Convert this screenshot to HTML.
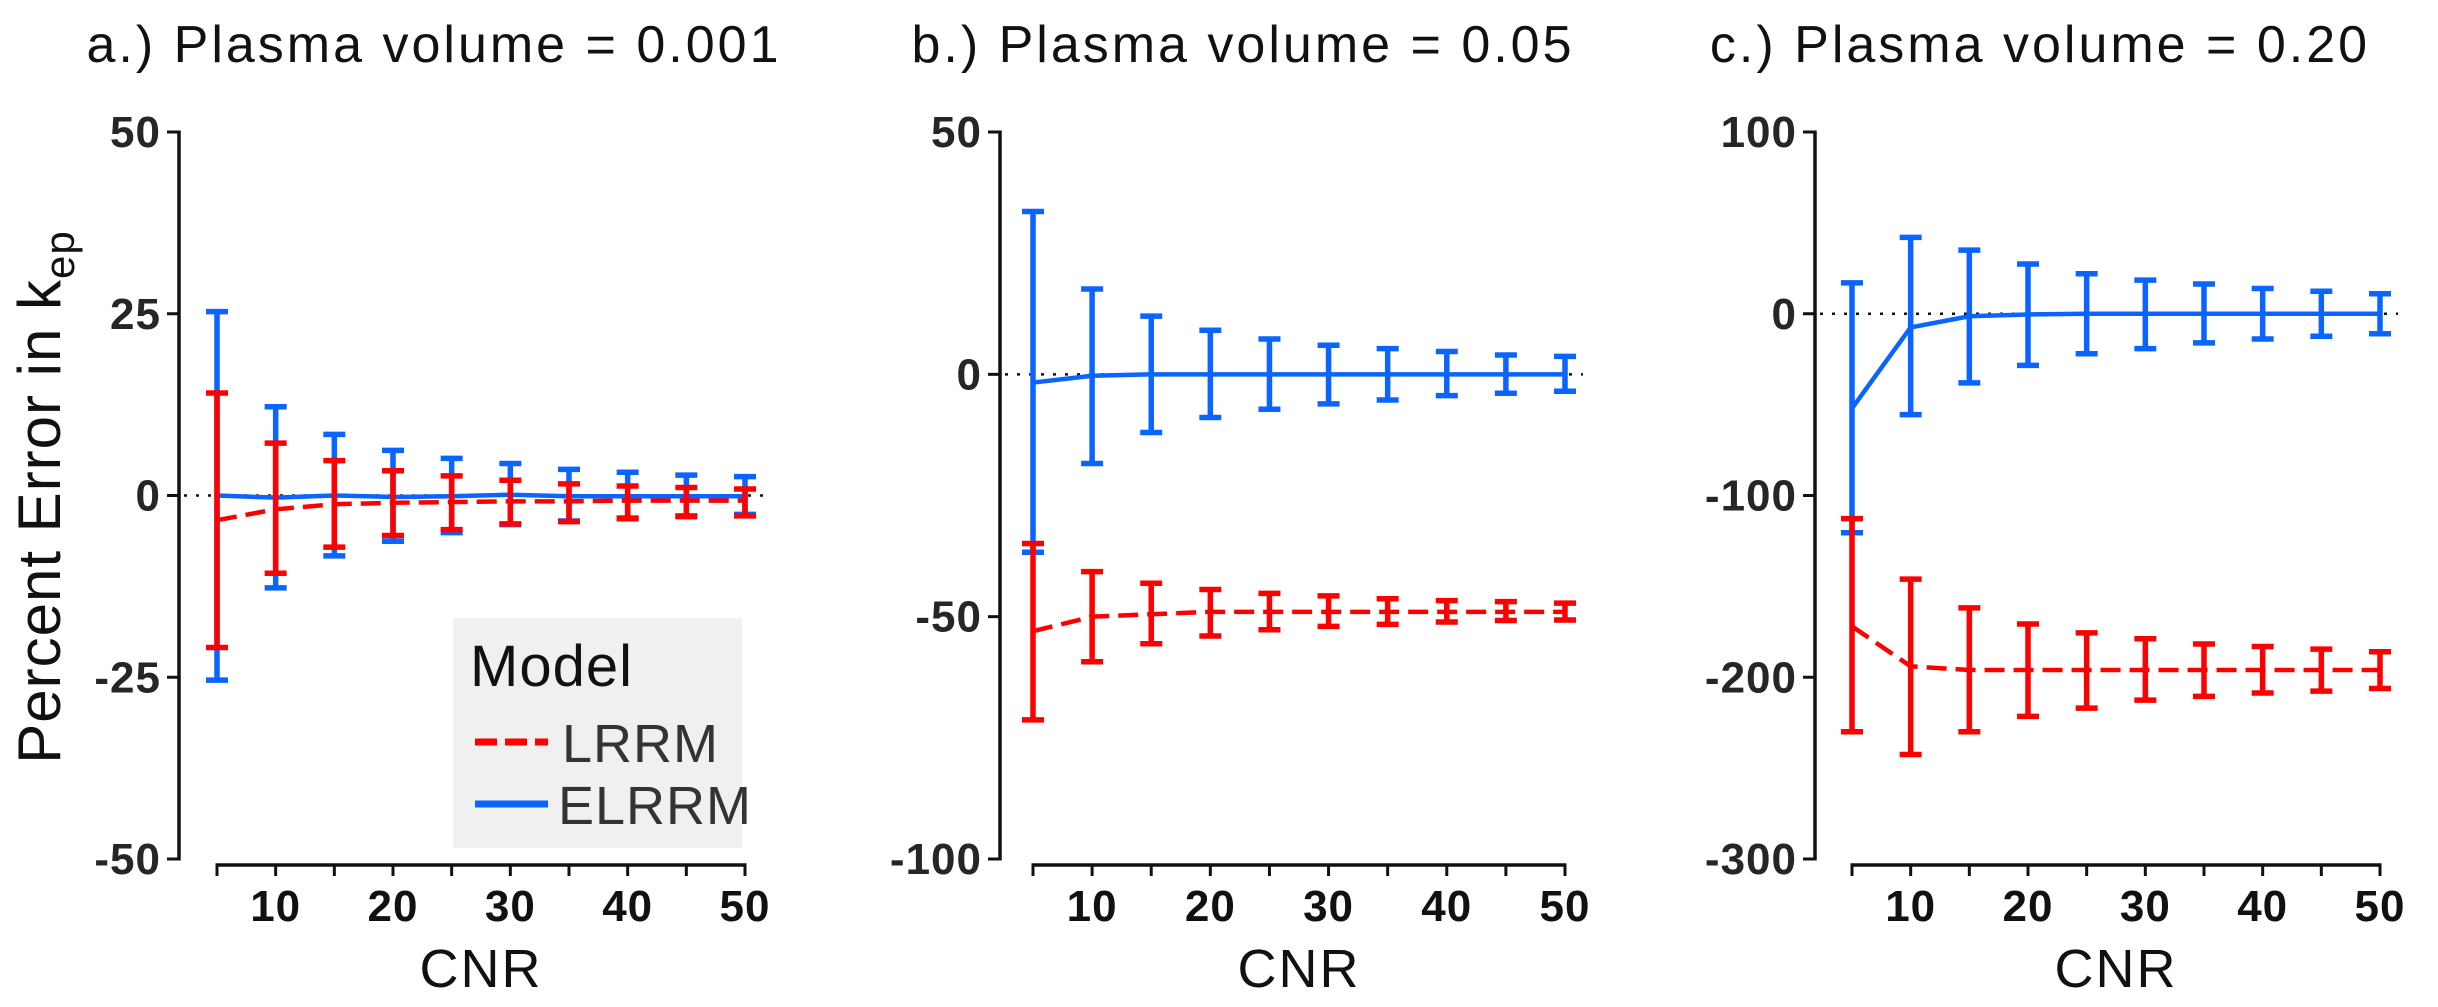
<!DOCTYPE html>
<html><head><meta charset="utf-8"><style>
html,body{margin:0;padding:0;background:#fff;}
svg{display:block;}
text{font-family:"Liberation Sans","DejaVu Sans",sans-serif;}
</style></head><body>
<svg id="fig" width="2438" height="1007" viewBox="0 0 2438 1007" xmlns="http://www.w3.org/2000/svg">
<text transform="translate(60,497) rotate(-90)" text-anchor="middle" font-size="60" fill="#111" letter-spacing="1">Percent Error in k<tspan font-size="42" dy="14">ep</tspan></text>
</svg>
<script>
const cnr = [5,10,15,20,25,30,35,40,45,50];
const xTicks = [10,20,30,40,50];
// Panel a
const aTicks = [50,25,0,-25,-50];
const aBlueMean = [0,-0.3,0,-0.2,-0.1,0.1,-0.1,-0.1,-0.1,-0.1];
const aBlueHi = [25.3,12.2,8.4,6.2,5.1,4.4,3.6,3.2,2.8,2.6];
const aBlueLo = [-25.4,-12.7,-8.3,-6.3,-5.1,-4.0,-3.5,-3.1,-2.8,-2.6];
const aRedMean = [-3.4,-1.9,-1.2,-1.0,-0.9,-0.8,-0.8,-0.7,-0.7,-0.7];
const aRedHi = [14.1,7.2,4.8,3.4,2.7,2.1,1.6,1.3,1.1,0.9];
const aRedLo = [-20.9,-10.7,-7.1,-5.5,-4.7,-3.9,-3.6,-3.2,-2.9,-2.8];
// Panel b
const bTicks = [50,0,-50,-100];
const bBlueMean = [-1.7,-0.3,0,0,0,0,0,0,0,0];
const bBlueHi = [33.6,17.6,12,9.1,7.3,6,5.3,4.7,4,3.7];
const bBlueLo = [-36.7,-18.4,-12,-8.9,-7.2,-6.1,-5.3,-4.4,-3.9,-3.5];
const bRedMean = [-53,-50,-49.5,-49,-49,-49,-49,-49,-49,-49];
const bRedHi = [-34.9,-40.7,-43.1,-44.4,-45.2,-45.7,-46.3,-46.7,-46.9,-47.2];
const bRedLo = [-71.3,-59.3,-55.6,-54,-52.7,-52,-51.6,-51.1,-50.8,-50.7];
// Panel c
const cTicks = [100,0,-100,-200,-300];
const cBlueMean = [-52,-7.5,-1.4,-0.4,0,0,0,0,0,0];
const cBlueHi = [17,42,35,27.4,22,18.5,16.4,13.9,12.4,11];
const cBlueLo = [-120.5,-55.5,-38,-28.4,-22,-19.2,-16,-13.9,-12.4,-11];
const cRedMean = [-172,-194,-196,-196,-196,-196,-196,-196,-196,-196];
const cRedHi = [-112.7,-146,-161.8,-170.7,-175.6,-178.8,-181.7,-183.1,-184.5,-186];
const cRedLo = [-230,-242.5,-230,-221.5,-217,-212.6,-210.5,-208.7,-207.6,-206.2];

const svg = document.getElementById('fig');
const NS = 'http://www.w3.org/2000/svg';
function mk(tag, attrs, parent){
  const e = document.createElementNS(NS, tag);
  for (const k in attrs) e.setAttribute(k, attrs[k]);
  (parent||svg).appendChild(e);
  return e;
}
const BLUE = '#0a64ff', RED = '#ff0000';

function panel(cfg){
  const g = mk('g', {});
  
  
  const yMin = cfg.ticks[cfg.ticks.length-1], yMax = cfg.ticks[0];
  const Y = v => 132 + (yMax - v) / (yMax - yMin) * 727;
  const X = v => cfg.x5 + (v - 5) / 45 * (cfg.x50 - cfg.x5);
  const t = mk('text', {x: cfg.tx, y: 62, 'text-anchor':'middle', 'font-size':52, fill:'#111', 'letter-spacing':3}, g);
  t.textContent = cfg.title;
  
  
  const ya = mk('line', {x1:cfg.ax, y1:Y(yMax)-1.5, x2:cfg.ax, y2:Y(yMin)+1.5, stroke:'#111', 'stroke-width':3.5}, g);
  
  
  cfg.ticks.forEach(v => {
    mk('line', {x1:cfg.ax-12, y1:Y(v), x2:cfg.ax, y2:Y(v), stroke:'#111', 'stroke-width':3}, g);
    const l = mk('text', {x:cfg.ax-18, y:Y(v)+15, 'text-anchor':'end', 'font-size':44, 'font-weight':'bold', fill:'#262626', 'letter-spacing':1}, g);
    l.textContent = v;
    
    
  });
  const xy = 865;
  const xa = mk('line', {x1:X(5)-1.5, y1:xy, x2:X(50)+1.5, y2:xy, stroke:'#111', 'stroke-width':3.5}, g);
  
  
  cnr.forEach(v => mk('line', {x1:X(v), y1:xy, x2:X(v), y2:xy+11, stroke:'#111', 'stroke-width':3}, g));
  xTicks.forEach(v => {
    const l = mk('text', {x:X(v), y:xy+56, 'text-anchor':'middle', 'font-size':44, 'font-weight':'bold', fill:'#111', 'letter-spacing':1}, g);
    l.textContent = v;
    
    
  });
  const xt = mk('text', {x:(X(5)+X(50))/2, y:xy+122, 'text-anchor':'middle', 'font-size':54, fill:'#111', 'letter-spacing':2}, g);
  xt.textContent = 'CNR';
  
  
  const z = mk('line', {x1:cfg.ax+5, y1:Y(0), x2:X(50)+18, y2:Y(0), stroke:'#111', 'stroke-width':2.5, 'stroke-dasharray':'3 9'}, g);
  
  
  function series(mean, hi, lo, color, dash, nm){
    const sg = mk('g', {}, g);
    
    
    const pts = cnr.map((c,i) => X(c)+','+Y(mean[i])).join(' ');
    const pl = mk('polyline', {points:pts, fill:'none', stroke:color, 'stroke-width':4.5, 'stroke-dasharray':dash}, sg);
    
    
    cnr.forEach((c,i) => {
      const eb = mk('g', {stroke:color, 'stroke-width':5.5}, sg);
      
      
      mk('line', {x1:X(c), y1:Y(hi[i]), x2:X(c), y2:Y(lo[i])}, eb);
      mk('line', {x1:X(c)-11, y1:Y(hi[i]), x2:X(c)+11, y2:Y(hi[i])}, eb);
      mk('line', {x1:X(c)-11, y1:Y(lo[i]), x2:X(c)+11, y2:Y(lo[i])}, eb);
    });
  }
  series(cfg.bm, cfg.bh, cfg.bl, BLUE, 'none', 'elrrm-series');
  series(cfg.rm, cfg.rh, cfg.rl, RED, '20 9', 'lrrm-series');
}

panel({name:'panel-a', title:'a.) Plasma volume = 0.001', tx:434, ax:179, x5:217, x50:745, ticks:aTicks,
  bm:aBlueMean, bh:aBlueHi, bl:aBlueLo, rm:aRedMean, rh:aRedHi, rl:aRedLo});
panel({name:'panel-b', title:'b.) Plasma volume = 0.05', tx:1243, ax:1000, x5:1033, x50:1565, ticks:bTicks,
  bm:bBlueMean, bh:bBlueHi, bl:bBlueLo, rm:bRedMean, rh:bRedHi, rl:bRedLo});
panel({name:'panel-c', title:'c.) Plasma volume = 0.20', tx:2040, ax:1815, x5:1852, x50:2380, ticks:cTicks,
  bm:cBlueMean, bh:cBlueHi, bl:cBlueLo, rm:cRedMean, rh:cRedHi, rl:cRedLo});

const lg = mk('g', {});


mk('rect', {x:453, y:618, width:289, height:230, fill:'#f0f0f0'}, lg);
const lt = mk('text', {x:470, y:686, 'font-size':58, fill:'#111', 'letter-spacing':1}, lg);
lt.textContent = 'Model';


const e1 = mk('g', {}, lg);


mk('line', {x1:475, y1:742, x2:548, y2:742, stroke:RED, 'stroke-width':7, 'stroke-dasharray':'22 8'}, e1);
const t1 = mk('text', {x:562, y:762, 'font-size':54, fill:'#333', 'letter-spacing':1}, e1);
t1.textContent = 'LRRM';
const e2 = mk('g', {}, lg);


mk('line', {x1:475, y1:804, x2:548, y2:804, stroke:BLUE, 'stroke-width':7}, e2);
const t2 = mk('text', {x:558, y:824, 'font-size':54, fill:'#333', 'letter-spacing':1}, e2);
t2.textContent = 'ELRRM';
</script>
</body></html>
